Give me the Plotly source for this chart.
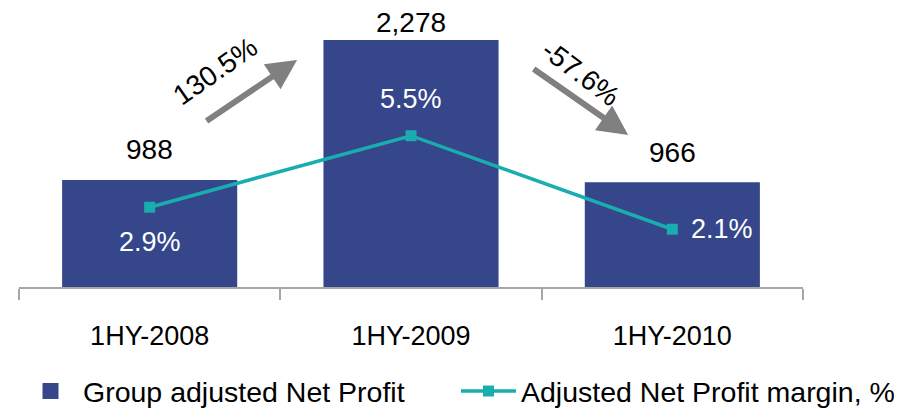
import plotly.graph_objects as go

# data
periods = ["1HY-2008", "1HY-2009", "1HY-2010"]
net_profit = [988, 2278, 966]
margin_pct = [2.9, 5.5, 2.1]
growth_labels = ["130.5%", "-57.6%"]

bar_color = "#35468A"
line_color = "#1AADAF"
arrow_color = "#808080"
font = "Liberation Sans, Arial, sans-serif"

fig = go.Figure()

fig.add_trace(go.Bar(
    x=periods, y=net_profit,
    name="Group adjusted Net Profit",
    marker=dict(color=bar_color, line=dict(width=0)),
    showlegend=False,
))

# legend entry for the bars, with a bigger square symbol
fig.add_trace(go.Scatter(
    x=[None], y=[None], mode="markers",
    name="Group adjusted Net Profit",
    marker=dict(symbol="square", size=18, color=bar_color),
))

fig.add_trace(go.Scatter(
    x=periods, y=margin_pct,
    name="Adjusted Net Profit margin, %",
    mode="lines+markers",
    line=dict(color=line_color, width=3.5),
    marker=dict(symbol="square", size=11, color=line_color),
    yaxis="y2",
))

annotations = []

# bar value labels
value_shift = [30, 18, 30]
for p, v, s in zip(periods, net_profit, value_shift):
    annotations.append(dict(
        x=p, y=v, text=f"{v:,}", showarrow=False,
        yshift=s, font=dict(size=28, color="black", family=font),
    ))

# margin labels (white)
margin_pos = [dict(yshift=-35, xshift=0), dict(yshift=37, xshift=0), dict(yshift=0, xshift=50)]
for p, m, pos in zip(periods, margin_pct, margin_pos):
    annotations.append(dict(
        x=p, y=m, yref="y2", text=f"{m}%", showarrow=False,
        font=dict(size=27, color="white", family=font), **pos,
    ))

# growth arrows
arrows = [
    dict(x=0.564, y=2094, ax=-92, ay=62),
    dict(x=1.831, y=1402, ax=-96, ay=-67),
]
for a in arrows:
    annotations.append(dict(
        x=a["x"], y=a["y"], xref="x", yref="y",
        ax=a["ax"], ay=a["ay"], axref="pixel", ayref="pixel",
        text="", showarrow=True, arrowhead=2, arrowsize=1.0,
        arrowwidth=6, arrowcolor=arrow_color,
    ))

growth_pos = [
    dict(x=0.25, y=1985, textangle=-35),
    dict(x=1.65, y=1965, textangle=37),
]
for lbl, g in zip(growth_labels, growth_pos):
    annotations.append(dict(
        text=lbl, showarrow=False, xref="x", yref="y",
        font=dict(size=28, color="black", family=font), **g,
    ))

fig.update_layout(
    width=906, height=409,
    margin=dict(l=11, r=0, t=2, b=130),
    plot_bgcolor="white", paper_bgcolor="white",
    font=dict(family=font, color="black"),
    bargap=0.33,
    showlegend=True,
    legend=dict(
        orientation="h", xref="container", yref="container",
        x=10 / 906, xanchor="left", y=1 - 358 / 409, yanchor="top",
        font=dict(size=28.5), itemwidth=55, entrywidth=368,
        tracegroupgap=0,
    ),
    xaxis=dict(
        domain=[0, 784 / 895],
        showline=True, linecolor="#A6A6A6", linewidth=2,
        ticks="outside", tickson="boundaries", ticklen=11,
        tickcolor="#A6A6A6", tickwidth=2,
        tickfont=dict(size=27), ticklabelstandoff=24,
        showgrid=False, zeroline=False,
    ),
    yaxis=dict(range=[0, 2555], visible=False, showgrid=False),
    yaxis2=dict(range=[0, 10.07], overlaying="y", visible=False, showgrid=False),
    annotations=annotations,
)

fig.write_html("out.html")
